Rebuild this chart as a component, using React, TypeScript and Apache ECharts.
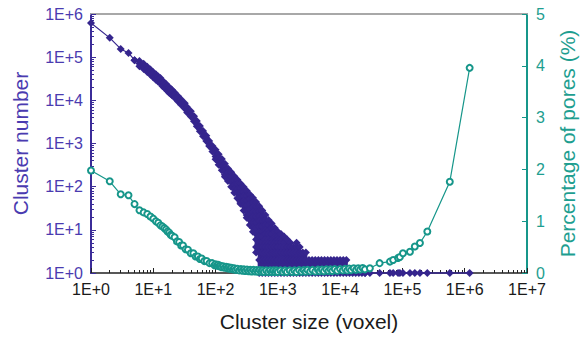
import React, { useEffect, useRef } from 'react';
import * as echarts from 'echarts';

// ---- Cluster number (purple diamonds) ----
const headSize = [1, 2, 3, 4];
const headCount = [620000, 280000, 155000, 125000];

// band: [cluster size, cluster numbers observed at that size]
const bandColumns: [number, number[]][] = [
  [5, [85000]],
  [6, [82000, 71000, 62000]],
  [7, [70000, 61000, 53000]],
  [8, [60000, 52500, 45500]],
  [9, [52000, 45000, 39000]],
  [10, [45000, 39000, 34000]],
  [11, [40000, 34700, 30000]],
  [12, [35500, 31000, 27000]],
  [13, [32800, 28500, 24800]],
  [14, [28500, 24800, 21600]],
  [15, [25800, 22400, 19500]],
  [16, [24000, 20900, 18200]],
  [17, [21600, 18800, 16300]],
  [18, [19800, 17200, 15000]],
  [19, [18600, 16200, 14100]],
  [20, [17400, 15100, 13100]],
  [22, [15200, 13200, 11500]],
  [25, [12400, 10800, 9400]],
  [28, [10500, 9100, 7900]],
  [32, [8600, 7500, 6500]],
  [35, [6900, 6000, 5200]],
  [40, [5600, 4850, 4200]],
  [45, [4300, 3760, 3270]],
  [50, [3300, 2880, 2500]],
  [56, [2550, 2210, 1920]],
  [63, [1960, 1700, 1480]],
  [71, [1520, 1320, 1150]],
  [79, [1150, 1000, 870]],
  [89, [870, 750, 650]],
  [100, [720, 600, 500, 430]],
  [112, [560, 460, 380, 320]],
  [126, [440, 360, 290, 240]],
  [141, [340, 280, 230, 190, 170]],
  [158, [265, 210, 165, 135]],
  [178, [215, 170, 130, 100]],
  [200, [175, 140, 110, 88, 72]],
  [224, [145, 115, 90, 70, 54]],
  [251, [118, 92, 72, 56, 44, 40]],
  [282, [98, 76, 60, 46, 36, 28]],
  [316, [80, 62, 48, 37, 28, 22, 19]],
  [355, [66, 52, 40, 30, 23, 17, 13]],
  [398, [55, 43, 34, 26, 20, 15, 11, 9]],
  [447, [44, 34, 26, 20, 15, 11, 8, 6, 4, 3]],
  [501, [35, 27, 21, 16, 12, 9, 7, 5, 4, 3, 2, 1]],
  [562, [28, 21, 16, 12, 9, 7, 5, 4, 3, 2, 1]],
  [631, [22, 17, 13, 10, 8, 6, 5, 4, 3, 2, 1]],
  [708, [17, 13, 10, 8, 6, 5, 4, 3, 2, 1]],
  [794, [14, 11, 8, 6, 5, 4, 3, 2, 1]],
  [891, [11, 9, 7, 5, 4, 3, 2, 1]],
  [1000, [9, 7, 6, 5, 4, 3, 2, 1]],
  [1122, [8, 6, 5, 4, 3, 2, 1]],
  [1259, [7, 5, 4, 3, 2, 1]],
  [1413, [6, 4, 3, 2, 1]],
  [1585, [5, 4, 3, 2, 1]],
  [1778, [4, 3, 2, 1]],
  [1995, [5, 4, 3, 2, 1]],
  [2239, [4, 3, 2, 1]],
  [2512, [3, 2, 1]],
  [2818, [3, 2, 1]],
  [3162, [2, 1]],
  [3548, [2, 1]],
  [3981, [2, 1]],
  [4467, [2, 1]],
  [5012, [2, 1]],
  [5623, [2, 1]],
  [6310, [2, 1]],
  [7079, [2, 1]],
  [7943, [2, 1]],
  [8913, [2, 1]],
  [10000, [2, 1]],
  [11220, [2, 1]],
  [12589, [2, 1]],
  [14125, [1]],
  [15849, [1]],
  [17783, [1]],
  [19953, [1]],
  [22387, [1]],
  [25119, [1]],
];

const tailSize = [30000, 43000, 63000, 71000, 85000, 91000, 102000, 132000, 158000, 191000, 251000, 576000, 1200000];
const tailCount = [1, 1, 1, 1, 1, 1, 1, 1, 1, 1, 1, 1, 1];

// ---- Percentage of pores (teal open circles) ----
const poreSize = [
  1, 2, 3, 4, 5, 6, 7, 8, 9, 10, 11, 12, 13, 14, 15, 16, 17, 18, 19, 20,
  22, 24, 26, 28, 30, 33, 36, 40, 44, 48, 52, 56, 60, 66, 72, 80, 88, 96,
  100, 105, 110, 115, 120, 125, 132, 140, 148, 155, 163, 170, 180, 190, 200, 210,
  225, 240, 255, 270, 285, 300, 320, 340, 360, 380, 405, 430, 455, 480, 510, 540,
  570, 600, 650, 700, 750, 800, 850, 900, 950, 1000, 1100, 1200, 1300, 1400,
  1550, 1700, 1850, 2000, 2200, 2400, 2600, 2800, 3000, 3300, 3600, 4000,
  4400, 4700, 5100, 5500, 6000, 6500, 7000, 7500, 8200, 9000, 10000, 11000,
  12000, 13000, 14000, 15000, 16500, 18000, 19500, 21000, 23000, 25000,
  30000, 43000, 63000, 71000, 85000, 91000, 102000, 132000, 158000,
  191000, 251000, 576000, 1200000,
];
const porePct = [
  1.98, 1.77, 1.52, 1.5, 1.33, 1.21, 1.17, 1.14, 1.09, 1.05, 1.0, 0.97, 0.92, 0.9, 0.87, 0.84, 0.8, 0.78, 0.74, 0.72,
  0.69, 0.61, 0.6, 0.53, 0.53, 0.46, 0.45, 0.38, 0.38, 0.32, 0.32, 0.27, 0.28, 0.23, 0.23, 0.19, 0.19, 0.15,
  0.17, 0.14, 0.16, 0.13, 0.14, 0.11, 0.13, 0.1, 0.12, 0.09, 0.11, 0.08, 0.1, 0.07, 0.09, 0.06,
  0.08, 0.05, 0.075, 0.045, 0.07, 0.04, 0.065, 0.035, 0.06, 0.03, 0.06, 0.03, 0.055, 0.025, 0.055, 0.025,
  0.05, 0.02, 0.05, 0.02, 0.05, 0.02, 0.05, 0.02, 0.05, 0.02, 0.05, 0.02, 0.05, 0.02,
  0.05, 0.02, 0.05, 0.02, 0.055, 0.025, 0.055, 0.025, 0.06, 0.03, 0.06, 0.03,
  0.065, 0.035, 0.065, 0.035, 0.07, 0.04, 0.07, 0.04, 0.075, 0.045, 0.075, 0.05,
  0.08, 0.05, 0.085, 0.055, 0.09, 0.06, 0.09, 0.065, 0.095, 0.07,
  0.09, 0.19, 0.22, 0.25, 0.29, 0.31, 0.38, 0.41, 0.51,
  0.58, 0.8, 1.76, 3.96,
];

// ---- Axis ticks ----
const xDecades = [1, 10, 100, 1000, 10000, 100000, 1000000];
const yDecades = [1, 10, 100, 1000, 10000, 100000];
const minorMantissas = [2, 3, 4, 5, 6, 7, 8, 9];

const PURPLE = '#35258d';
const PURPLE_TXT = '#4a3bb0';
const TEAL = '#16968a';
const TEAL_TXT = '#1e9e90';
const FONT = 'Liberation Sans, Arial, sans-serif';

const expLabel = (v: number) => '1E+' + Math.round(Math.log10(v));

export default function App() {
  const ref = useRef<HTMLDivElement>(null);
  useEffect(() => {
    if (!ref.current) return;
    const chart = echarts.init(ref.current, null, { renderer: 'svg' });

    const bandData: [number, number][] = [];
    bandColumns.forEach(([s, counts]) => counts.forEach((c) => bandData.push([s, c])));
    const headData: [number, number][] = headSize.map((s, i) => [s, headCount[i]] as [number, number]);
    headData.push(bandData[0]);
    const tailData: [number, number][] = [bandData[bandData.length - 1]];
    tailSize.forEach((s, i) => tailData.push([s, tailCount[i]]));

    const tealData = poreSize.map((s, i) => [s, porePct[i]]);

    const xMinor: number[] = [];
    xDecades.forEach((d) => minorMantissas.forEach((m) => xMinor.push(d * m)));
    const yMinor: number[] = [];
    yDecades.forEach((d) => minorMantissas.forEach((m) => yMinor.push(d * m)));

    const purpleSeries = (data: [number, number][], width: number) => ({
      type: 'line', xAxisIndex: 0, yAxisIndex: 0,
      data, symbol: 'diamond', symbolSize: 8, showSymbol: true,
      lineStyle: { color: PURPLE, width },
      itemStyle: { color: PURPLE },
      clip: false, emphasis: { disabled: true }, silent: true,
    });

    chart.setOption({
      animation: false,
      backgroundColor: '#ffffff',
      grid: { left: 91, right: 55, top: 14, bottom: 64, containLabel: false, outerBoundsMode: 'none' },
      xAxis: [
        {
          type: 'log', logBase: 10, min: 1, max: 10000000, position: 'bottom',
          axisLine: { show: true, lineStyle: { color: '#222', width: 1.5 } },
          axisTick: { show: true, inside: true, length: 5, lineStyle: { color: '#222', width: 1 } },
          axisLabel: { show: true, formatter: expLabel, color: '#1a1a1a', fontSize: 16, fontFamily: FONT, margin: 8 },
          splitLine: { show: false },
          minorTick: { show: false },
          name: 'Cluster size (voxel)', nameLocation: 'middle', nameGap: 38,
          nameTextStyle: { fontSize: 21, color: '#1a1a1a', fontFamily: FONT },
        },
        {
          type: 'log', logBase: 10, min: 1, max: 10000000, position: 'bottom',
          axisLine: { show: false },
          axisTick: { show: true, inside: true, length: 3, customValues: xMinor, lineStyle: { color: '#222', width: 1 } },
          axisLabel: { show: false },
          splitLine: { show: false },
        },
        {
          type: 'log', logBase: 10, min: 1, max: 10000000, position: 'top',
          axisLine: { show: true, lineStyle: { color: '#a8a8a8', width: 2 } },
          axisTick: { show: false },
          axisLabel: { show: false },
          splitLine: { show: false },
        },
      ],
      yAxis: [
        {
          type: 'log', logBase: 10, min: 1, max: 1000000, position: 'left',
          axisLine: { show: true, lineStyle: { color: '#3b2c98', width: 2 } },
          axisTick: { show: true, inside: true, length: 5, lineStyle: { color: '#3b2c98', width: 1 } },
          axisLabel: { show: true, formatter: expLabel, color: PURPLE_TXT, fontSize: 16, fontFamily: FONT, margin: 8 },
          splitLine: { show: false },
          name: 'Cluster number', nameLocation: 'middle', nameGap: 60, nameRotate: 90,
          nameTextStyle: { fontSize: 21, color: PURPLE_TXT, fontFamily: FONT },
        },
        {
          type: 'log', logBase: 10, min: 1, max: 1000000, position: 'left',
          axisLine: { show: false },
          axisTick: { show: true, inside: true, length: 3, customValues: yMinor, lineStyle: { color: '#3b2c98', width: 1 } },
          axisLabel: { show: false },
          splitLine: { show: false },
        },
        {
          type: 'value', min: 0, max: 5, interval: 1, position: 'right',
          axisLine: { show: true, lineStyle: { color: TEAL, width: 2 } },
          axisTick: { show: true, inside: true, length: 5, lineStyle: { color: TEAL, width: 1 } },
          axisLabel: { show: true, color: TEAL_TXT, fontSize: 16, fontFamily: FONT, margin: 9 },
          splitLine: { show: false },
          name: 'Percentage of pores (%)', nameLocation: 'middle', nameGap: 30, nameRotate: 90,
          nameTextStyle: { fontSize: 21, color: TEAL_TXT, fontFamily: FONT },
        },
      ],
      series: [
        { name: 'Cluster number (head)', ...purpleSeries(headData, 1.2) },
        { name: 'Cluster number', ...purpleSeries(bandData, 3) },
        { name: 'Cluster number (tail)', ...purpleSeries(tailData, 1.5) },
        {
          name: 'Percentage of pores', type: 'line', xAxisIndex: 0, yAxisIndex: 2,
          data: tealData, symbol: 'emptyCircle', symbolSize: 6, showSymbol: true,
          lineStyle: { color: TEAL, width: 1.2 },
          itemStyle: { color: TEAL, borderColor: TEAL, borderWidth: 1.2 },
          clip: false, emphasis: { disabled: true }, silent: true,
        },
      ],
    });
    return () => chart.dispose();
  }, []);
  return <div ref={ref} style={{ position: 'fixed', left: 0, top: 0, width: 582, height: 337 }} />;
}
